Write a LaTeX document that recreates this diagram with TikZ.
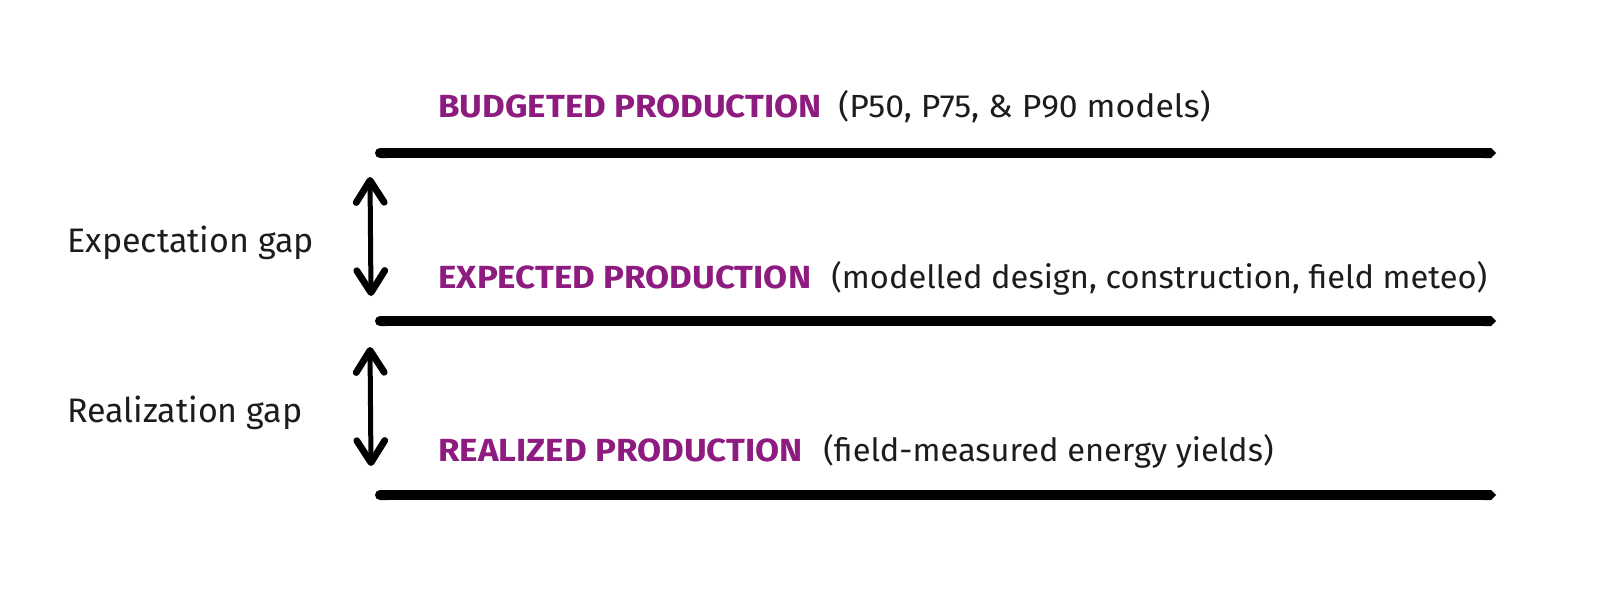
\documentclass[tikz,border=0pt]{standalone}
\usepackage{fontspec}
\setmainfont{Fira Sans}
\newfontfamily\headfont[FakeStretch=1.09]{Fira Sans}
\newfontfamily\parenfont[FakeStretch=1.02]{Fira Sans}
\newfontfamily\parenwidefont[FakeStretch=1.055]{Fira Sans}
\usetikzlibrary{arrows.meta}
\definecolor{headpurple}{RGB}{142,27,128}
\definecolor{txtdark}{RGB}{28,28,28}
\tikzset{
  level/.style={line width=5pt, {Round Cap}-{Triangle Cap}},
  barb/.tip={Straight Barb[length=11pt,width=14pt,line width=3.4pt,round]},
  gaparrow/.style={line width=2.5pt, {barb}-{barb}},
  heading/.style={anchor=base west, inner sep=0pt, text=headpurple, font=\headfont\fontsize{16}{19}\selectfont\bfseries},
  paren/.style={anchor=base west, inner sep=0pt, text=txtdark, font=\parenfont\fontsize{16}{19}\selectfont},
  gaplabel/.style={anchor=base west, inner sep=0pt, text=txtdark, font=\fontsize{17}{20}\selectfont},
}
\begin{document}
\begin{tikzpicture}[x=0.5pt,y=-0.5pt]
\useasboundingbox (0,0) rectangle (1600,611);
% levels
\coordinate (l1a) at (375,153); \coordinate (l1b) at (1496,153);
\coordinate (l2a) at (375,321); \coordinate (l2b) at (1496,321);
\coordinate (l3a) at (375,495); \coordinate (l3b) at (1496,495);
\draw[level] (l1a) -- (l1b);
\draw[level] (l2a) -- (l2b);
\draw[level] (l3a) -- (l3b);
% headings
\node[heading] (h1) at (438,117) {BUDGETED PRODUCTION};
\node[paren, font=\parenwidefont\fontsize{16}{19}\selectfont] (p1) at (838,117) {(P50, P75, \& P90 models)};
\node[heading] (h2) at (438,288) {EXPECTED PRODUCTION};
\node[paren] (p2) at (831,288) {(modelled design, construction, field meteo)};
\node[heading] (h3) at (438,461) {REALIZED PRODUCTION};
\node[paren] (p3) at (823,461) {(field-measured energy yields)};
% gaps
\coordinate (g1t) at (370,177); \coordinate (g1b) at (371,296);
\coordinate (g2t) at (370,347); \coordinate (g2b) at (371,466);
\draw[gaparrow] (g1t) -- (g1b);
\draw[gaparrow] (g2t) -- (g2b);
\node[gaplabel] (e) at (67,252) {Expectation gap};
\node[gaplabel] (r) at (67,422) {Realization gap};
\end{tikzpicture}
\end{document}
